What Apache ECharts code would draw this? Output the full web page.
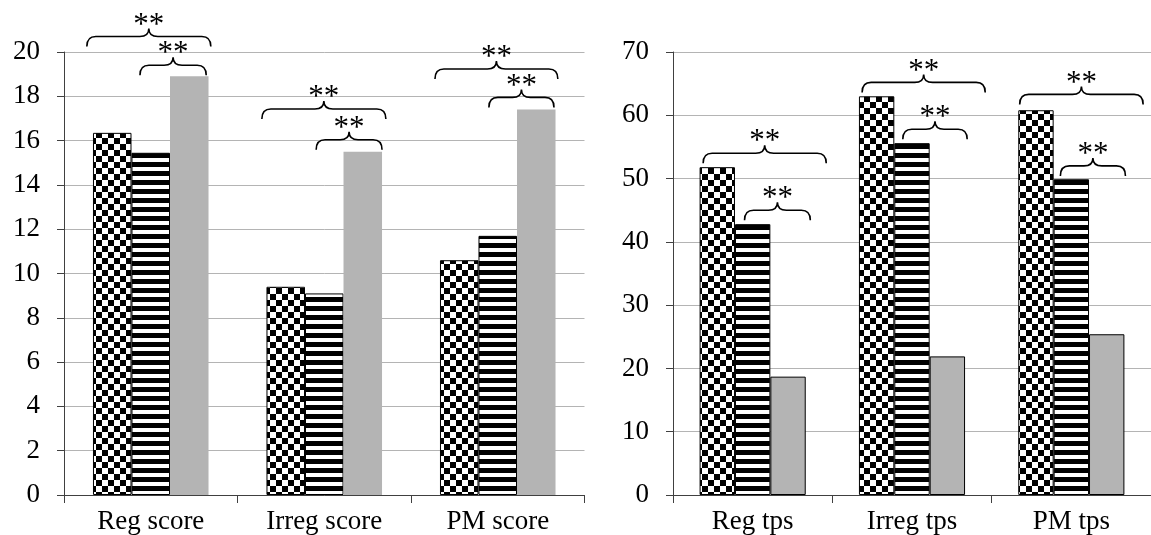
<!DOCTYPE html>
<html>
<head>
<meta charset="utf-8">
<script src="https://cdn.jsdelivr.net/npm/echarts@6/dist/echarts.min.js"></script>
<style>
html,body{margin:0;padding:0;background:#fff;}
#chart{width:1151px;height:535px;}
</style>
</head>
<body>
<div id="chart"></div>
<script>
// ---- data ----
const scoreCategories = ['Reg score', 'Irreg score', 'PM score'];
const tpsCategories = ['Reg tps', 'Irreg tps', 'PM tps'];

const scoreChecker = [16.35, 9.4, 10.6];
const scoreStripe  = [15.45, 9.1, 11.7];
const scoreGray    = [18.9, 15.5, 17.4];

const tpsChecker = [51.8, 63.0, 60.8];
const tpsStripe  = [42.8, 55.6, 49.9];
const tpsGray    = [18.7, 21.9, 25.4];

const scoreAxis = { min: 0, max: 20, interval: 2 };
const tpsAxis   = { min: 0, max: 70, interval: 10 };

// significance braces: [category index, start (bar units), end (bar units), value level]
const scoreBraces = [
  [0, -0.16, 3.06, 20.7], [0, 1.22, 2.94, 19.4],
  [1, -0.12, 3.10, 17.43], [1, 1.29, 3.00, 16.04],
  [2, -0.13, 3.06, 19.23], [2, 1.27, 2.96, 17.95]
];
const tpsBraces = [
  [0, 0.10, 3.58, 54.0], [0, 1.27, 3.13, 45.0],
  [1, 0.09, 3.57, 65.2], [1, 1.24, 3.06, 57.8],
  [2, 0.04, 3.53, 63.3], [2, 1.19, 3.03, 52.0]
];
const braceLabel = '**';

// ---- patterns ----
function checkerPattern() {
  const c = document.createElement('canvas');
  const s = 6;
  c.width = s * 2; c.height = s * 2;
  const g = c.getContext('2d');
  g.fillStyle = '#fff'; g.fillRect(0, 0, s * 2, s * 2);
  g.fillStyle = '#000';
  g.fillRect(0, 0, s, s); g.fillRect(s, s, s, s);
  return c;
}
function stripePattern() {
  const c = document.createElement('canvas');
  c.width = 8; c.height = 9;
  const g = c.getContext('2d');
  g.fillStyle = '#fff'; g.fillRect(0, 0, 8, 9);
  g.fillStyle = '#000'; g.fillRect(0, 0, 8, 5);
  return c;
}
const checkerFill = { image: checkerPattern(), repeat: 'repeat' };
const stripeFill = { image: stripePattern(), repeat: 'repeat' };
const grayFill = '#b4b4b4';

const FONT = 'Liberation Serif';
const CAT_GAP = 0.334;

function braceRender(params, api) {
  const cat = api.value(0), u1 = api.value(1), u2 = api.value(2), v = api.value(3);
  const center = api.coord([cat, v]);
  const catW = api.size([1, 0])[0];
  const groupW = catW * (1 - CAT_GAP);
  const left = center[0] - groupW / 2;
  const bw = groupW / 3;
  const x1 = left + u1 * bw, x2 = left + u2 * bw, y = center[1];
  const xm = (x1 + x2) / 2;
  const d = 10, r = 9, up = 8;
  const path = 'M' + x1 + ' ' + (y + d) +
    ' Q' + x1 + ' ' + y + ' ' + (x1 + r) + ' ' + y +
    ' L' + (xm - r) + ' ' + y +
    ' Q' + xm + ' ' + y + ' ' + xm + ' ' + (y - up) +
    ' Q' + xm + ' ' + y + ' ' + (xm + r) + ' ' + y +
    ' L' + (x2 - r) + ' ' + y +
    ' Q' + x2 + ' ' + y + ' ' + x2 + ' ' + (y + d);
  return {
    type: 'group',
    children: [
      { type: 'path', shape: { pathData: path },
        style: { stroke: '#000', fill: null, lineWidth: 1.6 } },
      { type: 'text',
        style: { text: braceLabel, x: xm, y: y - up - 3, align: 'center', verticalAlign: 'middle',
                 fontFamily: FONT, fontSize: 31, fill: '#000' } }
    ]
  };
}

function xAxisCfg(idx, cats) {
  return {
    type: 'category', gridIndex: idx, data: cats,
    axisLine: { show: true, lineStyle: { color: '#404040', width: 1 } },
    axisTick: { show: true, length: 8, interval: 0, lineStyle: { color: '#404040' } },
    axisLabel: { fontFamily: FONT, fontSize: 27, color: '#000', margin: 13, interval: 0 },
    splitLine: { show: false }
  };
}
function yAxisCfg(idx, ax) {
  return {
    type: 'value', gridIndex: idx, min: ax.min, max: ax.max, interval: ax.interval,
    axisLine: { show: true, lineStyle: { color: '#404040', width: 1 } },
    axisTick: { show: true, length: 7, inside: false, lineStyle: { color: '#404040' } },
    axisLabel: { fontFamily: FONT, fontSize: 27, color: '#000', margin: 24 },
    splitLine: { show: true, lineStyle: { color: '#b4b4b4', width: 1 } }
  };
}
function barSeries(idx, data, color, border) {
  return {
    type: 'bar', xAxisIndex: idx, yAxisIndex: idx, data: data,
    barGap: '0%', barCategoryGap: (CAT_GAP * 100) + '%',
    itemStyle: { color: color, borderColor: '#000', borderWidth: border },
    emphasis: { disabled: true }, silent: true, animation: false
  };
}

const chart = echarts.init(document.getElementById('chart'), null, { renderer: 'canvas' });
chart.setOption({
  animation: false,
  backgroundColor: '#fff',
  grid: [
    { left: 64, top: 52, width: 520.5, bottom: 39, containLabel: false },
    { left: 673, top: 52, width: 483, bottom: 39, containLabel: false }
  ],
  xAxis: [xAxisCfg(0, scoreCategories), xAxisCfg(1, tpsCategories)],
  yAxis: [yAxisCfg(0, scoreAxis), yAxisCfg(1, tpsAxis)],
  series: [
    barSeries(0, scoreChecker, checkerFill, 1),
    barSeries(0, scoreStripe, stripeFill, 1),
    barSeries(0, scoreGray, grayFill, 0),
    barSeries(1, tpsChecker, checkerFill, 1),
    barSeries(1, tpsStripe, stripeFill, 1),
    barSeries(1, tpsGray, grayFill, 1),
    { type: 'custom', xAxisIndex: 0, yAxisIndex: 0, data: scoreBraces, clip: false,
      encode: { x: 0, y: 3 }, renderItem: braceRender, silent: true, z: 5 },
    { type: 'custom', xAxisIndex: 1, yAxisIndex: 1, data: tpsBraces, clip: false,
      encode: { x: 0, y: 3 }, renderItem: braceRender, silent: true, z: 5 }
  ]
});
</script>
</body>
</html>
